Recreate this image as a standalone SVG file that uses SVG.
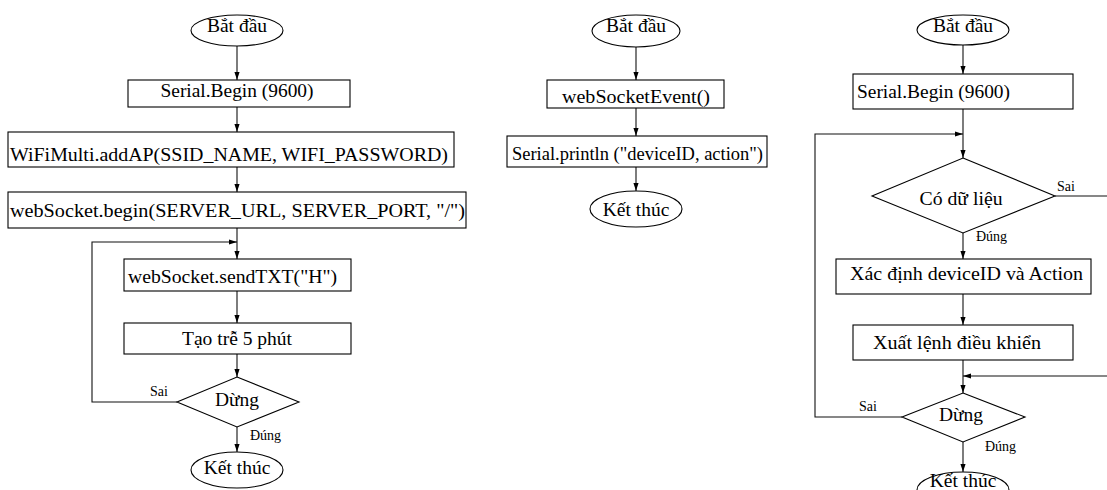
<svg xmlns="http://www.w3.org/2000/svg" width="1107" height="490" viewBox="0 0 1107 490">
  <style>
    .shape { fill: #fff; stroke: #000; stroke-width: 1.1; }
    .c { text-anchor: middle; }
    .edge { fill: none; stroke: #111; stroke-width: 1.1; }
  </style>
  <defs>
    <marker id="arrow" viewBox="0 0 10 10" refX="10" refY="5" markerWidth="8" markerHeight="8" markerUnits="userSpaceOnUse" orient="auto">
      <path d="M0,1.8 L10,5 L0,8.2 Z" fill="#000"/>
    </marker>
  </defs>
  <rect width="1107" height="490" fill="#fff"/>

  <!-- Connectors -->
  <g id="connectors">
    <!-- main loop flow -->
    <path class="edge" d="M237,46 V80" marker-end="url(#arrow)"/>
    <path class="edge" d="M237,107 V132" marker-end="url(#arrow)"/>
    <path class="edge" d="M237,167 V192" marker-end="url(#arrow)"/>
    <path class="edge" d="M237,228 V259" marker-end="url(#arrow)"/>
    <path class="edge" d="M237,291 V323" marker-end="url(#arrow)"/>
    <path class="edge" d="M237,354 V377" marker-end="url(#arrow)"/>
    <path class="edge" d="M237,427 V452" marker-end="url(#arrow)"/>
    <path class="edge" d="M177,402 H92 V242 H237" marker-end="url(#arrow)"/>
    <!-- event handler -->
    <path class="edge" d="M636,47 V80" marker-end="url(#arrow)"/>
    <path class="edge" d="M636,108 V136" marker-end="url(#arrow)"/>
    <path class="edge" d="M636,167 V191" marker-end="url(#arrow)"/>
    <!-- control flow -->
    <path class="edge" d="M963,45 V74" marker-end="url(#arrow)"/>
    <path class="edge" d="M963,109 V158" marker-end="url(#arrow)"/>
    <path class="edge" d="M902,417 H815 V134 H963" marker-end="url(#arrow)"/>
    <path class="edge" d="M1055,196 H1107"/>
    <path class="edge" d="M963,233 V259" marker-end="url(#arrow)"/>
    <path class="edge" d="M963,294 V325" marker-end="url(#arrow)"/>
    <path class="edge" d="M963,360 V393" marker-end="url(#arrow)"/>
    <path class="edge" d="M1107,376 H963" marker-end="url(#arrow)"/>
    <path class="edge" d="M963,442 V472" marker-end="url(#arrow)"/>
  </g>

  <g font-family="Liberation Serif, Tinos, Times New Roman, serif" font-size="19.5" fill="#000">
    <!-- Left flow: setup and keep-alive loop -->
    <g id="l-start"><ellipse class="shape" cx="237" cy="30.5" rx="46" ry="15.5"/><text class="c" x="237" y="32">Bắt đầu</text></g>
    <g id="l-serial"><rect class="shape" x="128" y="80" width="222" height="27"/><text class="c" x="237" y="97" textLength="153" lengthAdjust="spacingAndGlyphs">Serial.Begin (9600)</text></g>
    <g id="l-wifi"><rect class="shape" x="8" y="132" width="446" height="35"/><text class="c" x="229" y="161" textLength="438" lengthAdjust="spacingAndGlyphs">WiFiMulti.addAP(SSID_NAME, WIFI_PASSWORD)</text></g>
    <g id="l-ws-begin"><rect class="shape" x="8" y="192" width="458" height="36"/><text class="c" x="237.5" y="217" textLength="455" lengthAdjust="spacingAndGlyphs">webSocket.begin(SERVER_URL, SERVER_PORT, "/")</text></g>
    <g id="l-send"><rect class="shape" x="124" y="259" width="227" height="32"/><text x="128" y="283" textLength="209" lengthAdjust="spacingAndGlyphs">webSocket.sendTXT("H")</text></g>
    <g id="l-delay"><rect class="shape" x="124" y="323" width="227" height="31"/><text class="c" x="237" y="345" textLength="110" lengthAdjust="spacingAndGlyphs">Tạo trễ 5 phút</text></g>
    <g id="l-stop"><polygon class="shape" points="237,377 299,402 237,427 177,402"/><text class="c" x="237" y="406">Dừng</text>
      <text font-size="14" x="150" y="396">Sai</text><text font-size="14" x="250" y="440">Đúng</text></g>
    <g id="l-end"><ellipse class="shape" cx="237" cy="470" rx="46" ry="18"/><text class="c" x="237" y="474">Kết thúc</text></g>

    <!-- Middle flow: socket event handler -->
    <g id="m-start"><ellipse class="shape" cx="636" cy="31" rx="44" ry="16"/><text class="c" x="636" y="32">Bắt đầu</text></g>
    <g id="m-event"><rect class="shape" x="547" y="80" width="177" height="28"/><text class="c" x="636" y="103" textLength="148" lengthAdjust="spacingAndGlyphs">webSocketEvent()</text></g>
    <g id="m-print"><rect class="shape" x="507" y="136" width="260" height="31"/><text class="c" x="637.5" y="160" textLength="251" lengthAdjust="spacingAndGlyphs">Serial.println ("deviceID, action")</text></g>
    <g id="m-end"><ellipse class="shape" cx="636" cy="209" rx="46" ry="18"/><text class="c" x="636" y="216">Kết thúc</text></g>

    <!-- Right flow: command handling -->
    <g id="r-start"><ellipse class="shape" cx="963" cy="30" rx="46" ry="15"/><text class="c" x="963" y="32">Bắt đầu</text></g>
    <g id="r-serial"><rect class="shape" x="853" y="74" width="220" height="35"/><text x="857" y="98" textLength="153" lengthAdjust="spacingAndGlyphs">Serial.Begin (9600)</text></g>
    <g id="r-data"><polygon class="shape" points="963,158 1055,196 963,233 872,196"/><text class="c" x="961" y="205" textLength="83" lengthAdjust="spacingAndGlyphs">Có dữ liệu</text>
      <text font-size="14" x="1057" y="191">Sai</text><text font-size="14" x="976" y="241">Đúng</text></g>
    <g id="r-parse"><rect class="shape" x="836" y="259" width="255" height="35"/><text class="c" x="966.5" y="280" textLength="233" lengthAdjust="spacingAndGlyphs">Xác định deviceID và Action</text></g>
    <g id="r-output"><rect class="shape" x="853" y="325" width="220" height="35"/><text class="c" x="957" y="349" textLength="168" lengthAdjust="spacingAndGlyphs">Xuất lệnh điều khiển</text></g>
    <g id="r-stop"><polygon class="shape" points="963,393 1025,417 963,442 902,417"/><text class="c" x="961" y="421">Dừng</text>
      <text font-size="14" x="859" y="411">Sai</text><text font-size="14" x="985" y="451">Đúng</text></g>
    <g id="r-end"><ellipse class="shape" cx="963" cy="490" rx="46" ry="18"/><text class="c" x="963" y="487">Kết thúc</text></g>
  </g>
</svg>
